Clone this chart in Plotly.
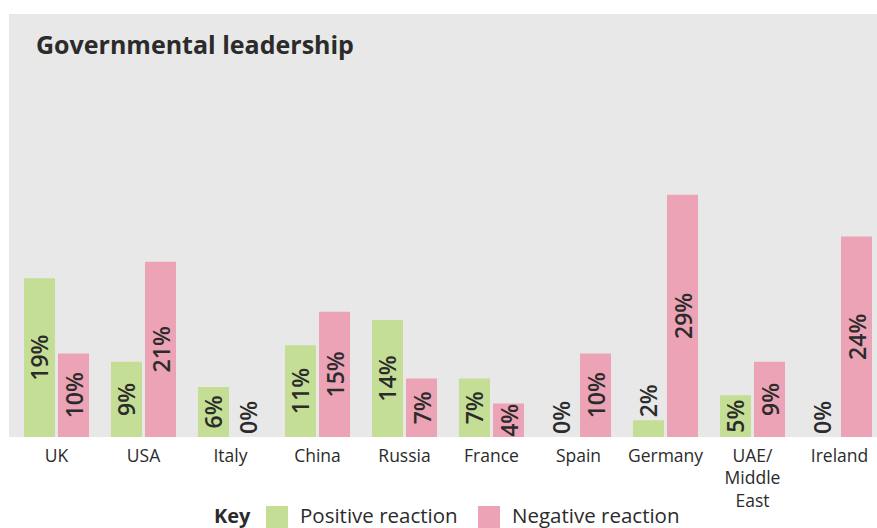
import plotly.graph_objects as go

countries = ["UK", "USA", "Italy", "China", "Russia", "France", "Spain", "Germany", "UAE/<br>Middle<br>East", "Ireland"]
positive = [19, 9, 6, 11, 14, 7, 0, 2, 5, 0]
negative = [10, 21, 0, 15, 7, 4, 10, 29, 9, 24]
title_text = "Governmental leadership"
series_names = ["Positive reaction", "Negative reaction"]

GREEN = "#c5de96"
PINK = "#eca3b5"
GREY = "#e8e8e8"
TXT = "#2b2b2b"
FONT = "Open Sans"

W, H = 877, 528


def positions(vals):
    return ["inside" if v >= 4 else "outside" for v in vals]


fig = go.Figure()
for name, vals, col in [(series_names[0], positive, GREEN), (series_names[1], negative, PINK)]:
    fig.add_trace(go.Bar(
        x=list(range(len(countries))), y=vals, name=name,
        marker=dict(color=col, line=dict(width=0)),
        text=[f"{v}%" for v in vals],
        textposition=positions(vals),
        textangle=-90,
        insidetextanchor="middle",
        constraintext="none",
        cliponaxis=False,
        textfont=dict(family=FONT, size=23, color=TXT, weight=600),
        showlegend=False,
    ))

# grey panel
fig.add_shape(type="rect", xref="paper", yref="paper", x0=0, x1=1, y0=0, y1=1,
              fillcolor=GREY, line=dict(width=0), layer="below")


def px_x(x):
    return (x - 9) / (W - 9)


def px_y(y):
    return (437 - y) / (437 - 14)


fig.add_annotation(text=f"<b>{title_text}</b>", xref="paper", yref="paper",
                   x=px_x(34), y=px_y(44), xanchor="left", yanchor="middle",
                   showarrow=False, font=dict(family=FONT, size=25, color=TXT))

# legend / key
ly = 515
fig.add_annotation(text="<b>Key</b>", xref="paper", yref="paper", x=px_x(253), y=px_y(ly),
                   xanchor="right", yanchor="middle", showarrow=False,
                   font=dict(family=FONT, size=20, color=TXT))
for x0, col, label in [(266, GREEN, series_names[0]), (478, PINK, series_names[1])]:
    fig.add_shape(type="rect", xref="paper", yref="paper",
                  x0=px_x(x0), x1=px_x(x0 + 22), y0=px_y(506), y1=px_y(530),
                  fillcolor=col, line=dict(width=0))
    fig.add_annotation(text=label, xref="paper", yref="paper", x=px_x(x0 + 32), y=px_y(ly),
                       xanchor="left", yanchor="middle", showarrow=False,
                       font=dict(family=FONT, size=20.5, color=TXT))

fig.update_layout(
    width=W, height=H,
    margin=dict(l=9, r=0, t=14, b=91),
    paper_bgcolor="white", plot_bgcolor="rgba(0,0,0,0)",
    barmode="group", bargap=0.218, bargroupgap=0.088,
    xaxis=dict(range=[-0.546, 9.431], tickmode="array",
               tickvals=list(range(len(countries))), ticktext=countries,
               showgrid=False, zeroline=False, showline=False, ticks="",
               ticklabelstandoff=6,
               tickfont=dict(family=FONT, size=17.5, color=TXT), fixedrange=True),
    yaxis=dict(range=[0, 50.66], visible=False, fixedrange=True),
    font=dict(family=FONT),
)

fig.write_html("out.html")
